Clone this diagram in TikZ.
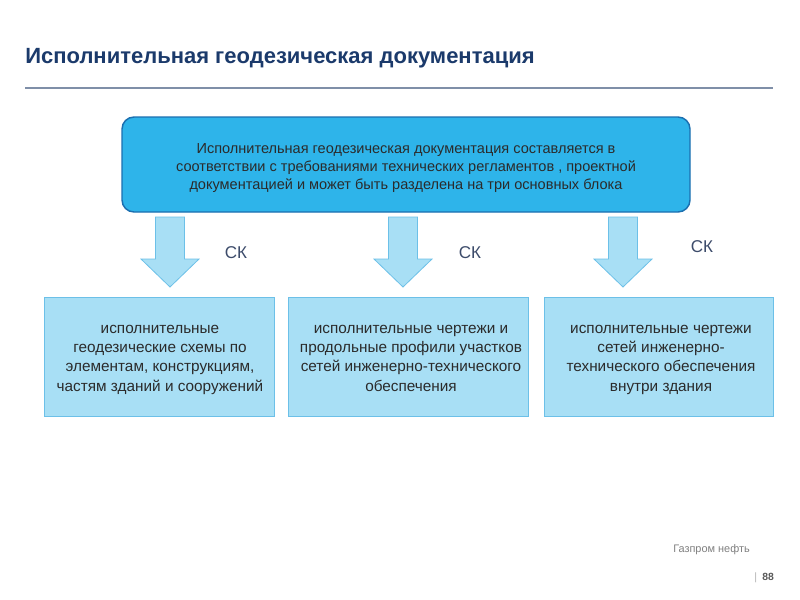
\documentclass[tikz,border=0pt]{standalone}
\usepackage{fontspec}
\setmainfont{Liberation Sans}
\definecolor{titlecol}{HTML}{1B3A6B}
\definecolor{rulecol}{HTML}{7F8FA8}
\definecolor{topfill}{HTML}{2EB4EA}
\definecolor{topdraw}{HTML}{1B6FB0}
\definecolor{lightfill}{HTML}{A8DFF5}
\definecolor{lightdraw}{HTML}{6CC0E8}
\definecolor{txt}{HTML}{2B2B2B}
\definecolor{cklab}{HTML}{3D4C6B}
\definecolor{foot}{HTML}{808080}
\tikzset{
  topbox/.style={draw=topdraw, line width=1.1pt, fill=topfill, rounded corners=9pt,
    minimum width=426pt, minimum height=71.25pt, inner sep=0pt},
  toptext/.style={align=center, text=txt, font=\fontsize{10.9}{13.6}\selectfont, inner sep=0pt},
  subbox/.style={draw=lightdraw, line width=0.6pt, fill=lightfill,
    minimum height=89.25pt, inner sep=0pt},
  subtext/.style={align=center, anchor=north, text=txt, font=\fontsize{11.5}{14.5}\selectfont, inner sep=0pt},
  blockarrow/.style={draw=lightdraw, line width=0.6pt, fill=lightfill, line join=miter},
  cktext/.style={text=cklab, font=\fontsize{12.8}{14}\selectfont, inner sep=0pt},
}
\begin{document}
\begin{tikzpicture}[x=0.75pt,y=-0.75pt]
\useasboundingbox (0,0) rectangle (800,600);
\fill[white] (0,0) rectangle (800,600);
\node[anchor=base west, inner sep=0pt, text=titlecol, font=\bfseries\fontsize{16.5}{19}\selectfont] (title) at (25,63) {Исполнительная геодезическая документация};
\coordinate (rl) at (25,88);
\coordinate (rr) at (773,88);
\draw[rulecol, line width=0.8pt] (rl) -- (rr);

\node[topbox] (top) at (406,164.5) {};
\node[toptext] (toptxt) at (406,168) {Исполнительная геодезическая документация составляется в\\соответствии с требованиями технических регламентов , проектной\\документацией и может быть разделена на три основных блока};

\foreach \cx in {170,403,623}{
  \draw[blockarrow] (\cx-14.5,217) -- (\cx+14.5,217) -- (\cx+14.5,259) -- (\cx+29,259)
    -- (\cx,287) -- (\cx-29,259) -- (\cx-14.5,259) -- cycle;
}
\node[cktext] (ck1) at (236,253) {СК};
\node[cktext] (ck2) at (470,253) {СК};
\node[cktext] (ck3) at (702,247) {СК};

\node[subbox, minimum width=172.5pt] (b1) at (159,356.5) {};
\node[subbox, minimum width=180pt] (b2) at (408,356.5) {};
\node[subbox, minimum width=171.75pt] (b3) at (658.5,356.5) {};
\node[subtext] (t1) at (160,319.5) {\strut исполнительные\\геодезические схемы по\\элементам, конструкциям,\\частям зданий и сооружений};
\node[subtext] (t2) at (411,319.5) {\strut исполнительные чертежи и\\продольные профили участков\\сетей инженерно-технического\\обеспечения};
\node[subtext] (t3) at (661,319.5) {\strut исполнительные чертежи\\сетей инженерно-\\технического обеспечения\\внутри здания};

\node[anchor=base west, inner sep=0pt, text=foot, font=\fontsize{8.2}{9}\selectfont] (gn) at (673,552) {Газпром нефть};
\node[anchor=base west, inner sep=0pt, text=foot!60, font=\fontsize{8}{9}\selectfont] (bar) at (754,580) {|};
\node[anchor=base west, inner sep=0pt, text=foot!130, font=\bfseries\fontsize{7.8}{9}\selectfont] (pg) at (762,580) {88};
\end{tikzpicture}
\end{document}
